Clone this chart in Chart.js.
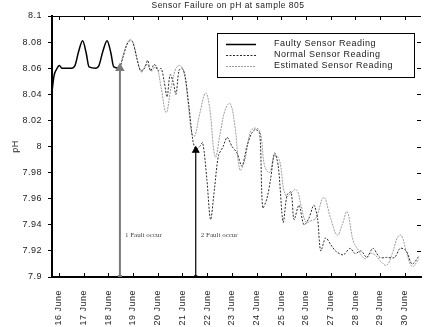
<!DOCTYPE html>
<html>
<head>
<meta charset="utf-8">
<script src="https://cdn.jsdelivr.net/npm/chart.js@4"></script>
<style>
    html, body { margin: 0; padding: 0; background: #fff; }
</style>
</head>
<body>
<canvas id="ph_chart" width="427" height="327"></canvas>
<script>
    'use strict';

    // axis ticks
    var dayTicks = [16, 17, 18, 19, 20, 21, 22, 23, 24, 25, 26, 27, 28, 29, 30];
    var phTicks = [7.9, 7.92, 7.94, 7.96, 7.98, 8, 8.02, 8.04, 8.06, 8.08, 8.1];

    // [day of June, pH]
    var faultyReadings = [
        [15.72, 8.042], [15.8, 8.054], [15.9, 8.059], [16.02, 8.062], [16.12, 8.060],
        [16.5, 8.060], [16.65, 8.062], [16.8, 8.073], [16.96, 8.081], [17.1, 8.072],
        [17.22, 8.061], [17.5, 8.060], [17.62, 8.062], [17.78, 8.073], [17.95, 8.081],
        [18.1, 8.072], [18.22, 8.061], [18.47, 8.060]
    ];

    var normalReadings = [
        [18.47, 8.060], [18.59, 8.068], [18.75, 8.078], [18.87, 8.081], [18.99, 8.080],
        [19.15, 8.068], [19.31, 8.058], [19.47, 8.060], [19.59, 8.066], [19.71, 8.058],
        [19.86, 8.063], [20.02, 8.058], [20.14, 8.060], [20.26, 8.050], [20.38, 8.038],
        [20.5, 8.055], [20.62, 8.050], [20.74, 8.040], [20.86, 8.058], [20.98, 8.060],
        [21.1, 8.055], [21.27, 8.030], [21.42, 8.005], [21.54, 7.998], [21.7, 8.000],
        [21.82, 8.003], [21.99, 7.975], [22.14, 7.944], [22.3, 7.968], [22.46, 7.993],
        [22.65, 8.000], [22.81, 8.007], [23.01, 8.000], [23.21, 7.995], [23.41, 7.985],
        [23.61, 8.000], [23.8, 8.010], [23.96, 8.013], [24.13, 8.010], [24.25, 7.953],
        [24.42, 7.960], [24.57, 7.975], [24.73, 7.995], [24.88, 7.985], [25.08, 7.942],
        [25.24, 7.963], [25.4, 7.965], [25.52, 7.944], [25.72, 7.955], [25.92, 7.940],
        [26.12, 7.945], [26.32, 7.955], [26.47, 7.945], [26.6, 7.920], [26.8, 7.930],
        [27.0, 7.925], [27.2, 7.920], [27.51, 7.917], [27.79, 7.922], [27.99, 7.918],
        [28.23, 7.920], [28.47, 7.915], [28.71, 7.922], [28.99, 7.915], [29.27, 7.915],
        [29.59, 7.915], [29.82, 7.922], [30.06, 7.920], [30.3, 7.910], [30.58, 7.916]
    ];

    var estimatedReadings = [
        [18.47, 8.060], [18.63, 8.072], [18.79, 8.080], [18.91, 8.082], [19.03, 8.078],
        [19.23, 8.062], [19.35, 8.057], [19.55, 8.063], [19.75, 8.058], [19.94, 8.062],
        [20.14, 8.045], [20.34, 8.026], [20.54, 8.045], [20.74, 8.060], [20.9, 8.062],
        [21.06, 8.057], [21.22, 8.035], [21.38, 8.010], [21.5, 8.008], [21.7, 8.025],
        [21.94, 8.041], [22.1, 8.030], [22.33, 7.992], [22.53, 8.010], [22.73, 8.028],
        [22.93, 8.033], [23.13, 8.015], [23.33, 7.982], [23.53, 7.990], [23.73, 8.010],
        [23.89, 8.014], [24.13, 8.012], [24.33, 7.985], [24.53, 7.980], [24.73, 7.993],
        [24.92, 7.990], [25.2, 7.962], [25.6, 7.967], [25.8, 7.955], [26.0, 7.942],
        [26.2, 7.943], [26.4, 7.945], [26.72, 7.961], [27.0, 7.945], [27.27, 7.932],
        [27.47, 7.940], [27.67, 7.950], [27.91, 7.928], [28.11, 7.921], [28.39, 7.914],
        [28.59, 7.918], [28.79, 7.917], [29.03, 7.912], [29.27, 7.909], [29.5, 7.918],
        [29.7, 7.930], [29.86, 7.932], [30.06, 7.920], [30.3, 7.908], [30.58, 7.914]
    ];

    // fault markers: [day, pH at the arrow head]
    var faultOne = [18.47, 8.060];
    var faultTwo = [21.54, 7.997];
    var faultLabels = ['1 Fault occur', '2 Fault occur'];
    var faultLabelPH = 7.932;

    var seriesNames = ['Faulty Sensor Reading', 'Normal Sensor Reading', 'Estimated Sensor Reading'];
    var chartTitle = 'Sensor Failure on pH at sample 805';

    var lineStyles = [
        { color: '#000000', width: 1.5, dash: [] },
        { color: '#2a2a2a', width: 1, dash: [2, 1.5] },
        { color: '#9c9c9c', width: 1, dash: [2, 1] }
    ];

    var sansFont = '"Liberation Sans", Arial, sans-serif';

    function toPoints(rows) {
        return rows.map(function (r) { return { x: r[0], y: r[1] }; });
    }

    function arrowData(fault) {
        return [{ x: fault[0], y: 7.9 }, { x: fault[0], y: fault[1] }];
    }

    // frame ticks, title, legend and fault notes
    var decorations = {
        id: 'decorations',
        beforeDraw: function (chart) {
            chart.ctx.letterSpacing = '0.5px';
        },
        afterDraw: function (chart) {
            var ctx = chart.ctx;
            var area = chart.chartArea;
            var xs = chart.scales.x;
            var ys = chart.scales.y;
            ctx.save();
            ctx.strokeStyle = '#000';
            ctx.lineWidth = 1;
            ctx.setLineDash([]);

            ctx.beginPath();
            ctx.moveTo(area.left, area.top + 0.5);
            ctx.lineTo(area.right, area.top + 0.5);
            dayTicks.forEach(function (d) {
                var px = Math.round(xs.getPixelForValue(d)) + 0.5;
                ctx.moveTo(px, area.top);
                ctx.lineTo(px, area.top + 4);
                ctx.moveTo(px, area.bottom);
                ctx.lineTo(px, area.bottom - 4);
            });
            phTicks.forEach(function (v) {
                var py = Math.round(ys.getPixelForValue(v)) + 0.5;
                ctx.moveTo(area.right - 4, py);
                ctx.lineTo(area.right, py);
            });
            ctx.stroke();

            ctx.fillStyle = '#222';
            ctx.font = '8.5px ' + sansFont;
            ctx.textAlign = 'center';
            ctx.textBaseline = 'middle';
            ctx.fillText(chartTitle, 228, 6);

            // legend
            ctx.fillStyle = '#fff';
            ctx.fillRect(217.5, 33.5, 197, 44);
            ctx.strokeRect(217.5, 33.5, 197, 44);
            ctx.textAlign = 'left';
            ctx.font = '9px ' + sansFont;
            seriesNames.forEach(function (name, i) {
                var y = 44 + i * 11;
                var st = lineStyles[i];
                ctx.strokeStyle = st.color;
                ctx.lineWidth = st.width;
                ctx.setLineDash(st.dash);
                ctx.beginPath();
                ctx.moveTo(226, y + 0.5);
                ctx.lineTo(256, y + 0.5);
                ctx.stroke();
                ctx.fillStyle = '#222';
                ctx.fillText(name, 274, y);
            });

            ctx.setLineDash([]);
            ctx.letterSpacing = '0px';
            ctx.fillStyle = '#444';
            ctx.font = '7px "Liberation Serif", "Times New Roman", serif';
            [faultOne, faultTwo].forEach(function (f, i) {
                ctx.fillText(faultLabels[i], xs.getPixelForValue(f[0]) + 5, ys.getPixelForValue(faultLabelPH));
            });
            ctx.restore();
        }
    };

    var canvas = document.getElementById('ph_chart');
    var phChart = new Chart(canvas, {
        type: 'line',
        data: {
            datasets: [{
                label: 'Fault 1',
                data: arrowData(faultOne),
                borderColor: '#7a7a7a',
                backgroundColor: '#7a7a7a',
                borderWidth: 2,
                pointStyle: ['rect', 'triangle'],
                pointRadius: [1.5, 3.5],
                tension: 0,
                order: 0
            }, {
                label: 'Fault 2',
                data: arrowData(faultTwo),
                borderColor: '#000',
                backgroundColor: '#000',
                borderWidth: 1.2,
                pointStyle: ['rect', 'triangle'],
                pointRadius: [1.5, 3.5],
                tension: 0,
                order: 0
            }, {
                label: seriesNames[0],
                data: toPoints(faultyReadings),
                borderColor: lineStyles[0].color,
                borderWidth: lineStyles[0].width,
                pointRadius: 0,
                cubicInterpolationMode: 'monotone',
                order: 1
            }, {
                label: seriesNames[1],
                data: toPoints(normalReadings),
                borderColor: lineStyles[1].color,
                borderWidth: lineStyles[1].width,
                borderDash: lineStyles[1].dash,
                pointRadius: 0,
                tension: 0.3,
                order: 2
            }, {
                label: seriesNames[2],
                data: toPoints(estimatedReadings),
                borderColor: lineStyles[2].color,
                borderWidth: lineStyles[2].width,
                borderDash: lineStyles[2].dash,
                pointRadius: 0,
                tension: 0.4,
                order: 3
            }]
        },
        options: {
            responsive: false,
            animation: false,
            layout: { padding: { top: 16, right: 0, left: 0, bottom: 0 } },
            plugins: {
                legend: { display: false },
                title: { display: false },
                tooltip: { enabled: false }
            },
            scales: {
                x: {
                    type: 'linear',
                    min: 15.72,
                    max: 30.66,
                    afterFit: function (scale) { scale.height = 50; },
                    afterBuildTicks: function (scale) {
                        scale.ticks = dayTicks.map(function (d) { return { value: d }; });
                    },
                    grid: { display: false },
                    border: { display: true, color: '#000', width: 2 },
                    ticks: {
                        color: '#222',
                        font: { family: sansFont, size: 9 },
                        minRotation: 90,
                        maxRotation: 90,
                        padding: 5,
                        callback: function (v) { return v + ' June'; }
                    }
                },
                y: {
                    min: 7.9,
                    max: 8.1,
                    afterFit: function (scale) { scale.width = 52; },
                    afterBuildTicks: function (scale) {
                        scale.ticks = phTicks.map(function (v) { return { value: v }; });
                    },
                    grid: { display: true, drawOnChartArea: false, tickLength: 4, color: '#000' },
                    border: { display: true, color: '#000', width: 2 },
                    ticks: {
                        color: '#222',
                        font: { family: sansFont, size: 9 },
                        padding: 6,
                        callback: function (v) { return String(Number(v.toFixed(2))); }
                    },
                    title: {
                        display: true,
                        text: 'pH',
                        color: '#222',
                        font: { family: sansFont, size: 9 },
                        padding: { top: 10, bottom: 0 }
                    }
                }
            }
        },
        plugins: [decorations]
    });
</script>
</body>
</html>
